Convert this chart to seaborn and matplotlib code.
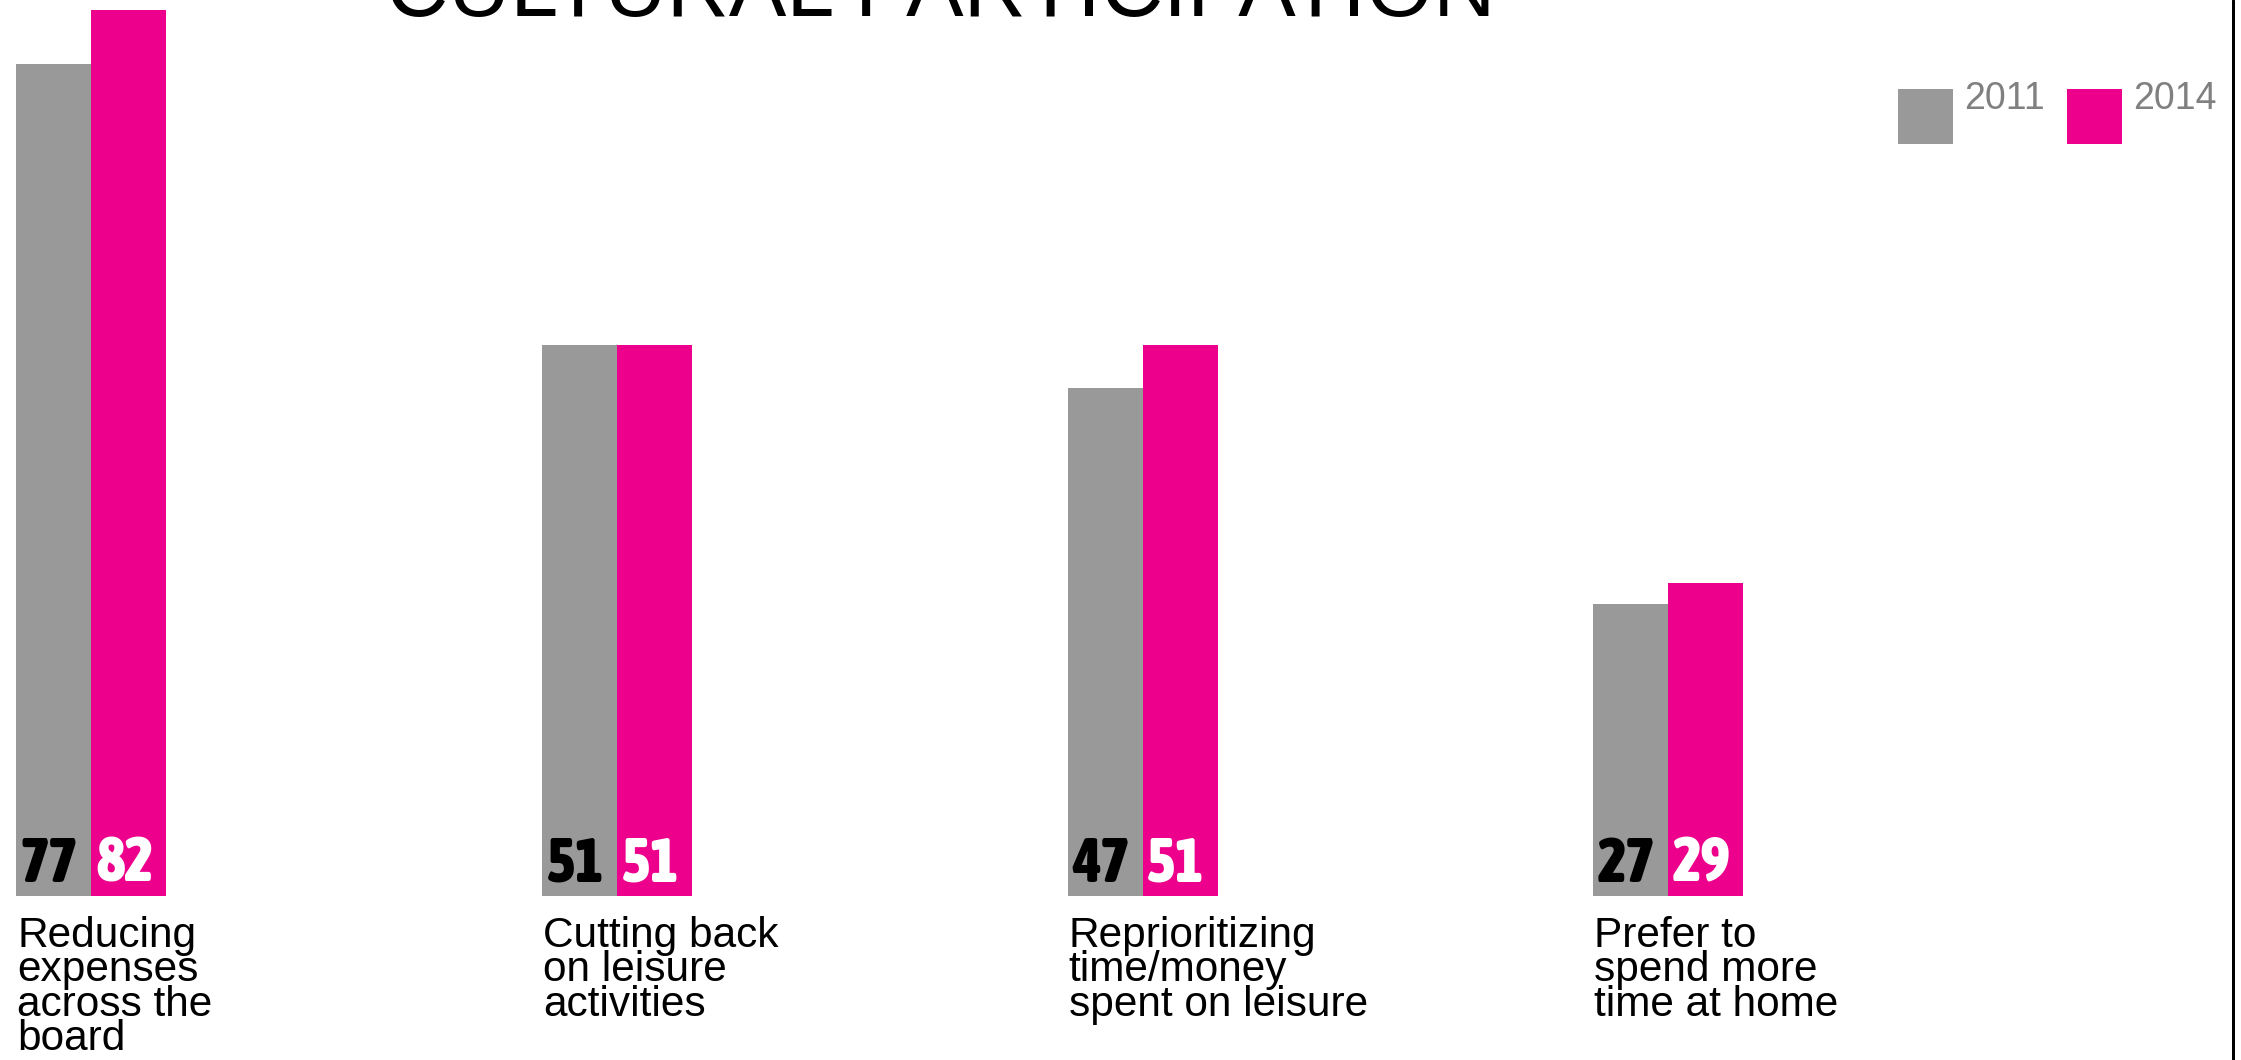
import matplotlib
matplotlib.use("Agg")
import matplotlib.pyplot as plt
from matplotlib import font_manager as fm
from matplotlib.patches import Rectangle
from matplotlib.lines import Line2D
import seaborn as sns
import pandas as pd

# --- data -------------------------------------------------------------
categories = [
    "Reducing\nexpenses\nacross the\nboard",
    "Cutting back\non leisure\nactivities",
    "Reprioritizing\ntime/money\nspent on leisure",
    "Prefer to\nspend more\ntime at home",
]
years = ["2011", "2014"]
values_2011 = [77, 51, 47, 27]
values_2014 = [82, 51, 51, 29]
title = "CULTURAL PARTICIPATION"

colors = {"2011": "#999999", "2014": "#EC008C"}
label_colors = {"2011": "black", "2014": "white"}

df = pd.DataFrame({
    "category": categories * 2,
    "year": [years[0]] * len(categories) + [years[1]] * len(categories),
    "value": values_2011 + values_2014,
})


def condensed_bold():
    """Pick a narrow heavy face for the numbers inside the bars."""
    def weight(f):
        w = f.weight
        if isinstance(w, str):
            return {"bold": 700, "heavy": 900, "black": 900}.get(w, 400)
        return w
    cands = []
    for f in fm.fontManager.ttflist:
        name = (f.fname or "").lower()
        narrow = ("condensed" in str(f.stretch).lower() or "condensed" in name
                  or "narrow" in name)
        if narrow and weight(f) >= 600 and f.style == "normal":
            cands.append(f)
    if cands:
        cands.sort(key=lambda f: (-weight(f), f.name))
        return fm.FontProperties(fname=cands[0].fname, size=44), True
    return fm.FontProperties(family="DejaVu Sans", weight="bold", size=31), False


# --- figure -----------------------------------------------------------
sns.set_style("white")
plt.rcParams["font.family"] = ["Liberation Sans", "DejaVu Sans"]

W, H = 2241, 1060
fig = plt.figure(figsize=(W / 100, H / 100), dpi=100)
fig.patch.set_facecolor("white")

base_px = 896          # baseline of bars, pixels from top
unit_px = 10.805       # pixels per percentage point
group_px = 525.7       # distance between categories
first_px = 91.3        # centre of first group

ax = fig.add_axes([0, (H - base_px) / H, 1, base_px / H])
sns.barplot(data=df, x="category", y="value", hue="year", order=categories,
            hue_order=years, palette=colors, width=2 * 75 / group_px,
            saturation=1, legend=False, ax=ax, linewidth=0, errorbar=None)

ax.set_xlim(-first_px / group_px, (W - first_px) / group_px)
ax.set_ylim(0, base_px / unit_px)
ax.set_axis_off()

PT = 0.72  # points per pixel at 100 dpi

num_font, is_narrow = condensed_bold()

# value labels inside the bars, near the bottom
for container, year in zip(ax.containers, years):
    for bar in container:
        v = bar.get_height()
        ax.annotate(f"{v:.0f}", xy=(bar.get_x() + bar.get_width() / 2 - 0.008, 0),
                    xytext=(0, 14 * PT), textcoords="offset points",
                    ha="center", va="baseline", fontproperties=num_font,
                    color=label_colors[year])

# category labels, one line at a time for even spacing
half = 75 / group_px
for i, label in enumerate(categories):
    for k, line in enumerate(label.split("\n")):
        ax.annotate(line, xy=(i - half, 0), xycoords=("data", "axes fraction"),
                    xytext=(1 * PT, -(51 + 34.3 * k) * PT), textcoords="offset points",
                    ha="left", va="baseline", fontsize=30.5, color="black",
                    annotation_clip=False)

# title, partly above the top edge
fig.text(386 / W, 1 - 16 / H, title, ha="left", va="baseline",
         fontsize=62, color="black")

# legend
for x0, year in zip([1898, 2067], years):
    fig.add_artist(Rectangle((x0 / W, 1 - 144 / H), 55 / W, 55 / H,
                             transform=fig.transFigure,
                             facecolor=colors[year], edgecolor="none"))
    fig.text((x0 + 66) / W, 1 - 109 / H, year, ha="left", va="baseline",
             fontsize=27, color="#808080")

# right frame line
fig.add_artist(Line2D([2233 / W, 2233 / W], [0, 1], transform=fig.transFigure,
                      color="black", linewidth=3 * PT))

fig.savefig("out.png", dpi=100)
